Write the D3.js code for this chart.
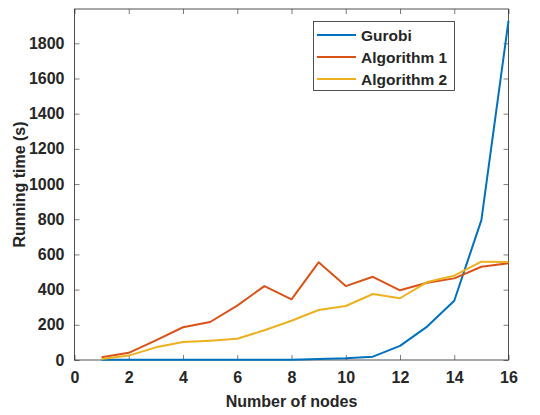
<!DOCTYPE html>
<html>
<head>
<meta charset="utf-8">
<script src="https://cdn.jsdelivr.net/npm/d3@7"></script>
<style>
  body { margin: 0; background: #fff; }
  text { font-family: "Liberation Sans", Arial, sans-serif; font-weight: bold; fill: #262626; }
</style>
</head>
<body>
<div id="chart"></div>
<script>
// data
const nodes = [1, 2, 3, 4, 5, 6, 7, 8, 9, 10, 11, 12, 13, 14, 15, 16];
const gurobi = [1, 1, 1, 1, 1, 1, 1, 2, 5, 10, 19, 80, 190, 337, 795, 1927];
const algo1 = [15, 41, 112, 186, 216, 309, 420, 345, 555, 420, 473, 396, 439, 464, 530, 550];
const algo2 = [6, 25, 72, 102, 110, 121, 169, 223, 284, 307, 375, 351, 443, 479, 559, 557];
const seriesNames = ["Gurobi", "Algorithm 1", "Algorithm 2"];
const colors = ["#0072BD", "#D95319", "#EDB120"];
const xTicks = [0, 2, 4, 6, 8, 10, 12, 14, 16];
const yTicks = [0, 200, 400, 600, 800, 1000, 1200, 1400, 1600, 1800];

const width = 540, height = 415;
const margin = { top: 9, right: 31.5, bottom: 55, left: 74.5 };
const w = width - margin.left - margin.right;
const h = height - margin.top - margin.bottom;

const svg = d3.select("#chart").append("svg")
    .attr("width", width)
    .attr("height", height);
const g = svg.append("g")
    .attr("transform", "translate(" + margin.left + "," + margin.top + ")");

const x = d3.scaleLinear().domain([0, 16]).range([0, w]);
const y = d3.scaleLinear().domain([0, 1995]).range([h, 0]);

// axes with inward ticks, MATLAB style box
const axisColor = "#262626";
const styleAxis = sel => {
    sel.select(".domain").remove();
    sel.selectAll(".tick line").attr("stroke", axisColor).attr("stroke-width", 0.6);
    sel.selectAll(".tick text").style("font-size", "16px").attr("fill", axisColor);
};

g.append("g")
    .attr("transform", "translate(0," + h + ")")
    .call(d3.axisBottom(x).tickValues(xTicks).tickSize(-5).tickPadding(12))
    .call(styleAxis);
g.append("g")
    .call(d3.axisTop(x).tickValues(xTicks).tickSize(-5).tickFormat(""))
    .call(styleAxis);
g.append("g")
    .call(d3.axisLeft(y).tickValues(yTicks).tickSize(-5).tickPadding(10).tickFormat(d3.format("d")))
    .call(styleAxis);
g.append("g")
    .attr("transform", "translate(" + w + ",0)")
    .call(d3.axisRight(y).tickValues(yTicks).tickSize(-5).tickFormat(""))
    .call(styleAxis);

g.append("rect")
    .attr("width", w).attr("height", h)
    .attr("fill", "none")
    .attr("stroke", axisColor)
    .attr("stroke-width", 0.8);

// lines
const allSeries = [gurobi, algo1, algo2];
const line = d3.line()
    .x((d, i) => x(nodes[i]))
    .y(d => y(d));
allSeries.forEach((s, k) => {
    g.append("path")
        .datum(s)
        .attr("fill", "none")
        .attr("stroke", colors[k])
        .attr("stroke-width", 2)
        .attr("stroke-linejoin", "round")
        .attr("d", line);
});

// axis labels
svg.append("text")
    .attr("x", margin.left + w / 2)
    .attr("y", 407)
    .attr("text-anchor", "middle")
    .style("font-size", "16px")
    .text("Number of nodes");
svg.append("text")
    .attr("transform", "translate(25," + (margin.top + h / 2) + ") rotate(-90)")
    .attr("text-anchor", "middle")
    .style("font-size", "16px")
    .text("Running time (s)");

// legend
const legend = svg.append("g");
legend.append("rect")
    .attr("x", 313.5).attr("y", 21.5)
    .attr("width", 141).attr("height", 69)
    .attr("fill", "#fff")
    .attr("stroke", "#262626")
    .attr("stroke-width", 0.8);
seriesNames.forEach((name, k) => {
    const yy = 35 + k * 22;
    legend.append("line")
        .attr("x1", 317).attr("x2", 356)
        .attr("y1", yy).attr("y2", yy)
        .attr("stroke", colors[k])
        .attr("stroke-width", 2);
    legend.append("text")
        .attr("x", 361).attr("y", yy + 5.5)
        .style("font-size", "15.5px")
        .text(name);
});
</script>
</body>
</html>
